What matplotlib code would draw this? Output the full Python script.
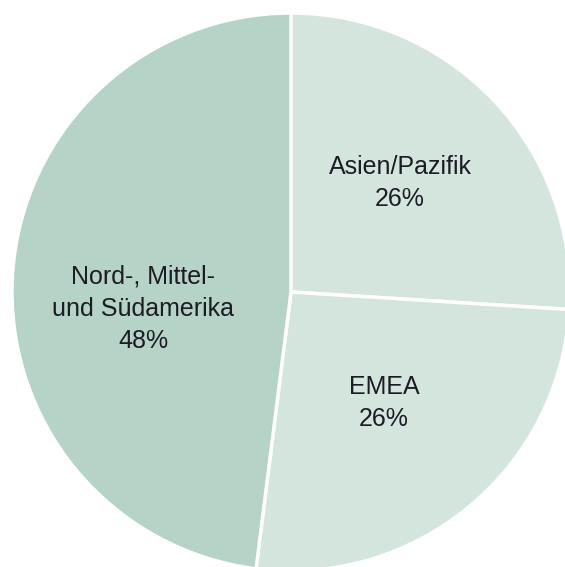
import matplotlib
matplotlib.use("Agg")
import matplotlib.pyplot as plt

regions = ["Asien/Pazifik", "EMEA", "Nord-, Mittel-\nund Südamerika"]
shares = [26, 26, 48]
colors = ["#d4e5dd", "#d4e5dd", "#b5d3c6"]

fig = plt.figure(figsize=(5.65, 5.67), dpi=100)
ax = fig.add_axes([0, 0, 1, 1])
ax.pie(shares, colors=colors, startangle=90, counterclock=False, radius=1,
       wedgeprops=dict(edgecolor="white", linewidth=2.5))
ax.set_xlim(-291 / 279, 274 / 279)
ax.set_ylim(-275 / 279, 292 / 279)
ax.set_aspect("auto")
ax.axis("off")

label_pos = [(0.391, 0.390), (0.333, -0.397), (-0.530, -0.060)]
for name, val, (x, y) in zip(regions, shares, label_pos):
    ax.text(x, y, f"{name}\n{val}%", ha="center", va="center", fontsize=18,
            family="Liberation Sans", color="#1c1c24", linespacing=1.42)

fig.savefig("out.png", dpi=100)
